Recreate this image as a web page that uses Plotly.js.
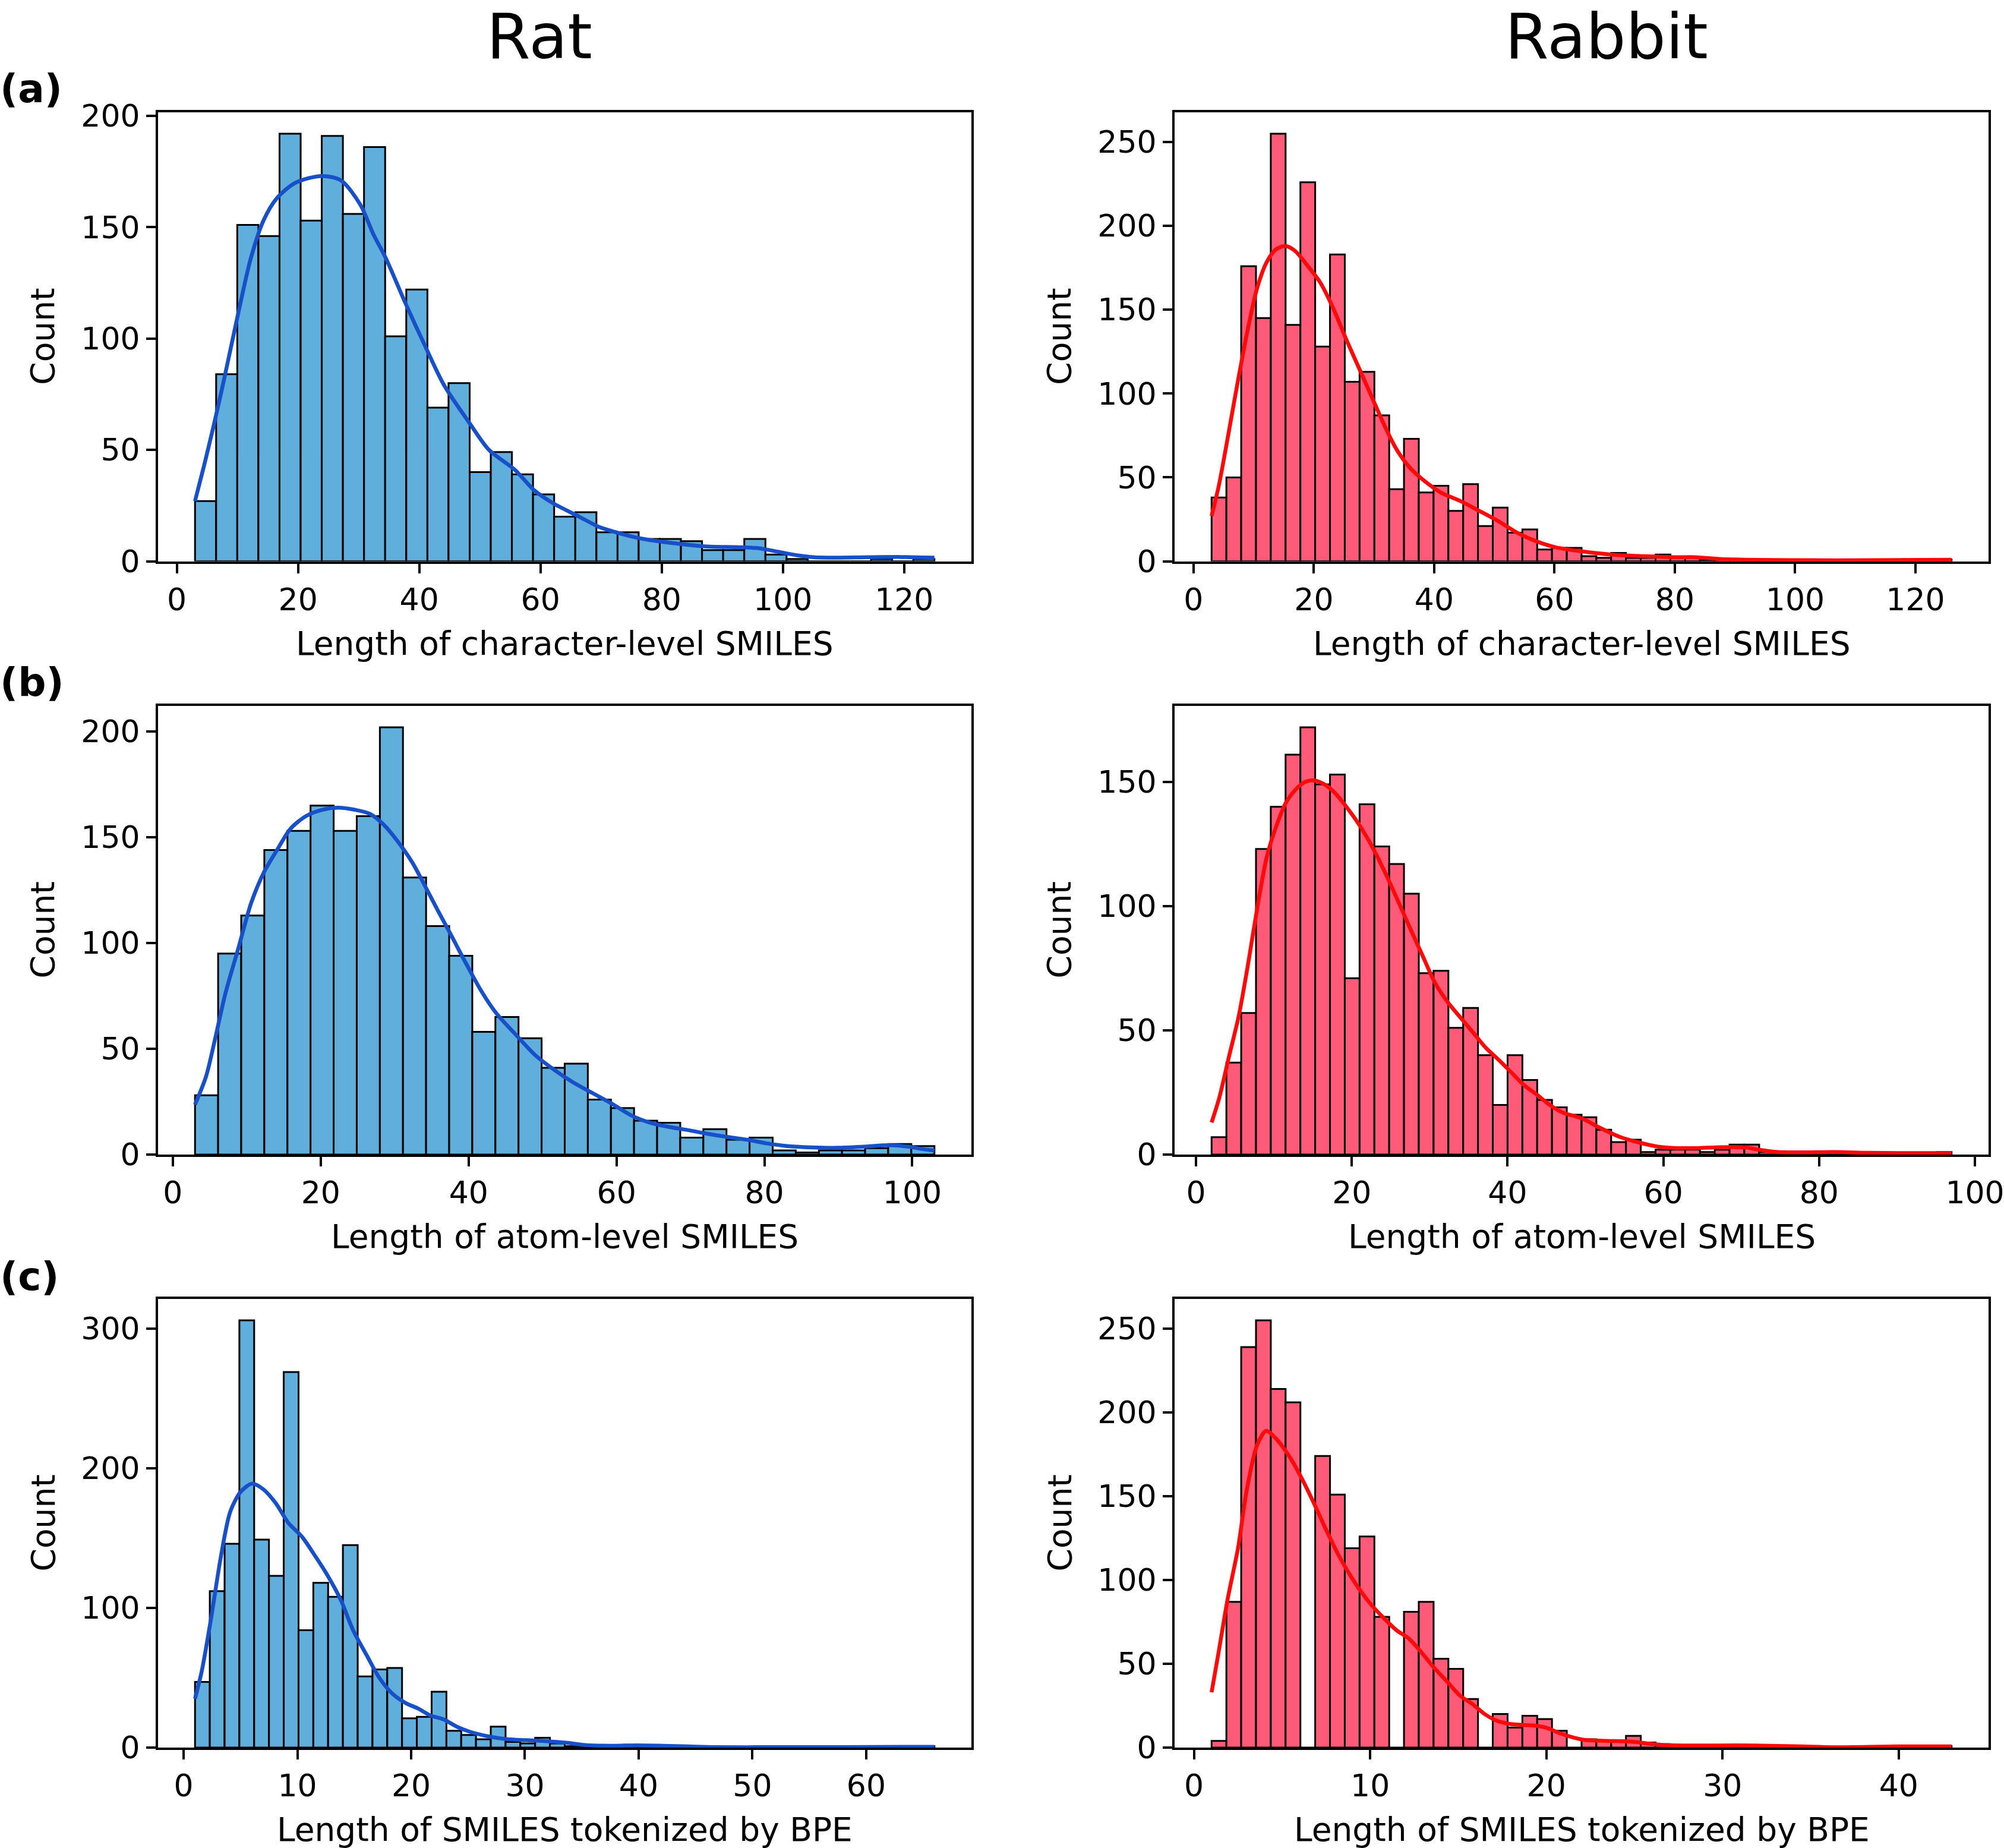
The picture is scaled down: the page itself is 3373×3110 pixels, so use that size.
<!DOCTYPE html>
<html>
<head>
<meta charset="utf-8">
<script src="https://cdn.plot.ly/plotly-3.0.1.min.js"></script>
<style>html,body{margin:0;padding:0;background:#fff;}</style>
</head>
<body>
<div id="fig" style="width:3373px;height:3110px;"></div>
<script>
// ---------- Histogram counts (equal-width bins spanning each range) ----------
const ratCharRange = [3, 125];
const ratCharCounts = [27, 84, 151, 146, 192, 153, 191, 156, 186, 101, 122, 69, 80, 40, 49, 39, 30, 20, 22, 13,
  13, 10, 10, 9, 5, 5, 10, 3, 1, 0, 0, 0, 1, 0, 1];

const rabbitCharRange = [3, 126];
const rabbitCharCounts = [38, 50, 176, 145, 255, 141, 226, 128, 183, 107, 113, 87, 43, 73, 41, 45, 30, 46, 21, 32,
  17, 19, 7, 8, 8, 3, 2, 5, 2, 2, 4, 2, 2, 1, 1, 0, 1, 0, 0, 0, 0, 0, 0, 0, 0, 0, 0, 0, 0, 1];

const ratAtomRange = [3, 103];
const ratAtomCounts = [28, 95, 113, 144, 153, 165, 153, 160, 202, 131, 108, 94, 58, 65, 55, 41, 43, 26, 22, 16,
  15, 8, 12, 7, 8, 2, 1, 2, 2, 3, 5, 4];

const rabbitAtomRange = [2, 97];
const rabbitAtomCounts = [7, 37, 57, 123, 140, 161, 172, 149, 153, 71, 141, 124, 117, 105, 73, 74, 51, 59, 40, 20,
  40, 30, 22, 19, 16, 15, 10, 5, 6, 1, 2, 2, 2, 1, 2, 4, 4, 1, 1, 0, 1, 0, 0, 1, 0, 0, 0, 0, 0, 1];

const ratBpeRange = [1, 66];
const ratBpeCounts = [47, 112, 146, 306, 149, 123, 269, 84, 118, 108, 145, 51, 56, 57, 21, 22, 40, 12, 9, 6,
  15, 4, 3, 7, 3, 1, 1, 0, 1, 2, 1, 1, 0, 1, 0, 0, 0, 0, 0, 0, 0, 0, 0, 0, 0, 0, 0, 0, 0, 1];

const rabbitBpeRange = [1, 43];
const rabbitBpeCounts = [4, 87, 239, 255, 214, 206, 0, 174, 151, 119, 126, 78, 0, 81, 87, 53, 47, 29, 0, 20,
  12, 19, 17, 10, 0, 5, 4, 4, 7, 3, 2, 0, 1, 1, 1, 0, 1, 0, 1, 0, 0, 0, 0, 0, 0, 0, 0, 0, 0, 1];

// ---------- Kernel density curves (count scale) ----------
const ratCharKdeX = [3, 4.5, 6, 7.5, 9, 10.5, 12.2, 14.3, 16.5, 19.6, 23.9, 27.1, 30.3, 32.4, 34.5, 37.7, 40.9, 44.1,
  48.3, 51.5, 55.8, 58.9, 62.1, 66.4, 69.6, 73.8, 77, 82.3, 87.6, 92.9, 96.1, 99.3, 102.5, 105.1, 108.8, 114, 119.5, 125];
const ratCharKdeY = [27, 43, 60, 78, 97, 116, 136, 153, 163, 170, 173, 171, 160, 147, 136, 116, 97, 79,
  62, 50, 41, 32, 26, 20, 15.5, 12, 10, 8, 6.6, 6.3, 5.8, 4.2, 2.6, 1.8, 1.6, 1.8, 1.9, 1.6];

const rabbitCharKdeX = [3, 4.2, 5.8, 7.4, 9, 10.5, 12.1, 13.7, 15.3, 16.9, 19, 21.1, 23.2, 25.3, 27.4, 29.5, 31.6,
  33.7, 35.9, 38, 41.1, 44.3, 47.5, 50.6, 53.8, 56.9, 60.1, 64.3, 69.6, 74.9, 80.1, 83.3, 87.5, 91.7, 101.2, 111.8, 126];
const rabbitCharKdeY = [27, 45, 76, 108, 138, 162, 178, 186, 188, 185, 176, 166, 151, 133, 116, 99, 82,
  67, 56, 49, 41, 36, 30, 24, 17, 12, 8.4, 6, 3.9, 3, 2.4, 2.4, 1.3, 0.9, 0.6, 0.6, 0.9];

const ratAtomKdeX = [3, 4.5, 5.8, 7.1, 8.9, 10.6, 12.4, 14.1, 15.9, 18, 20.2, 22.4, 24.6, 26.7, 28.5, 30.2, 32.4,
  34.1, 35.9, 37.6, 39.4, 41.6, 43.7, 46.3, 49, 51.6, 54.2, 56.8, 59.4, 62, 64.6, 67.2, 69.9, 72.5, 75.1, 77.7,
  80.3, 82.9, 86.4, 89.9, 93.4, 96.9, 99.5, 101.2, 103];
const ratAtomKdeY = [23.6, 37, 56, 76, 98, 119, 134, 144, 154, 160, 163, 164, 163, 161, 156, 149, 138,
  127, 115, 104, 92, 78, 67, 57, 47, 40, 34, 29, 24, 18.5, 15, 13, 11.4, 9.7, 8.3, 7,
  5.3, 4.1, 3.4, 3.2, 3.7, 4.4, 3.7, 2.7, 1.9];

const rabbitAtomKdeX = [2, 3, 4.2, 5.5, 6.7, 7.9, 9.1, 10.4, 11.6, 12.8, 14, 15.2, 16.5, 17.7, 19.3, 20.9, 22.6,
  24.2, 25.8, 27.5, 29.1, 30.7, 32.4, 34, 35.6, 37.2, 38.9, 40.5, 42.1, 43.8, 45.4, 47, 49.5, 51.9, 54.4, 56.8,
  59.3, 61.7, 64.1, 66.6, 69, 70.7, 72.3, 74.7, 78, 82.1, 86.1, 90.2, 97];
const rabbitAtomKdeY = [12.9, 23, 39, 56, 77, 100, 120, 133, 142, 147, 150, 150.6, 149, 146, 140, 133, 124,
  114, 103, 91, 80, 69, 61, 55, 49, 43, 38, 33, 28, 24, 20, 17, 14.6, 10.7, 7.1, 4.9,
  3.2, 2.6, 2.6, 2.9, 3, 2.8, 1.9, 1.0, 0.9, 1.0, 0.7, 0.6, 0.6];

const ratBpeKdeX = [1, 1.6, 2.4, 3.3, 4.1, 5, 6, 7, 8.1, 9.2, 10.4, 11.5, 12.6, 13.8, 14.9, 16.1, 17.2, 18.3,
  19.5, 20.6, 21.7, 22.9, 24, 25.1, 26.8, 28.5, 30.2, 31.9, 33.6, 35.3, 37.6, 39.9, 42.1, 44.4, 46.7, 51.8, 57.5, 63.1, 66];
const ratBpeKdeY = [35, 55, 92, 138, 169, 183, 189, 185, 175, 161, 151, 138, 124, 106, 84, 66, 50, 39,
  32, 28, 23, 20, 15, 11.5, 8, 6, 5.3, 4.6, 3.5, 1.8, 1.3, 1.6, 1.3, 0.8, 0.3, 0.3, 0.3, 0.5, 0.5];

const rabbitBpeKdeX = [1, 1.4, 1.9, 2.5, 3, 3.6, 4.1, 4.6, 5.4, 6.1, 6.8, 7.5, 8.2, 9.1, 10, 10.8, 11.5, 12.2,
  12.9, 13.6, 14.4, 15.1, 15.8, 16.5, 17.2, 18, 18.7, 19.4, 20.1, 20.8, 21.6, 22.3, 23.4, 24.4, 25.2, 25.9, 27,
  28.4, 30.9, 32.7, 34.5, 36.3, 39.9, 43];
const rabbitBpeKdeY = [33, 57, 88, 119, 154, 181, 189, 185, 174, 161, 146, 130, 115, 99, 86, 77, 70, 65,
  57, 48, 39, 31, 26, 20, 16, 14, 13.5, 13, 11.5, 8.4, 5.8, 4.4, 4, 3.8, 3.2, 2.2, 1.4,
  1.2, 1.3, 1.1, 0.7, 0.2, 0.7, 0.7];

// ---------- Labels ----------
const columnTitles = ['Rat', 'Rabbit'];
const rowTags = ['(a)', '(b)', '(c)'];
const xLabels = ['Length of character-level SMILES', 'Length of atom-level SMILES', 'Length of SMILES tokenized by BPE'];
const yLabel = 'Count';

// ---------- Styling ----------
const RAT_FILL = '#5FAEDC', RAT_LINE = '#1750C8';
const RABBIT_FILL = '#FF5A78', RABBIT_LINE = '#FF0A0A';
const FONT = 'DejaVu Sans';
const W = 3373, H = 3110;

// panel frames in pixels: [left, right] and [top, bottom]
const colPx = [[266, 1635], [1977, 3347]];
const rowPx = [[189, 944.5], [1188, 1943], [2186, 2941]];

const panels = [
  {row: 0, col: 0, counts: ratCharCounts, range: ratCharRange, kx: ratCharKdeX, ky: ratCharKdeY, fill: RAT_FILL, line: RAT_LINE, xd: 20, yd: 50},
  {row: 0, col: 1, counts: rabbitCharCounts, range: rabbitCharRange, kx: rabbitCharKdeX, ky: rabbitCharKdeY, fill: RABBIT_FILL, line: RABBIT_LINE, xd: 20, yd: 50},
  {row: 1, col: 0, counts: ratAtomCounts, range: ratAtomRange, kx: ratAtomKdeX, ky: ratAtomKdeY, fill: RAT_FILL, line: RAT_LINE, xd: 20, yd: 50},
  {row: 1, col: 1, counts: rabbitAtomCounts, range: rabbitAtomRange, kx: rabbitAtomKdeX, ky: rabbitAtomKdeY, fill: RABBIT_FILL, line: RABBIT_LINE, xd: 20, yd: 50},
  {row: 2, col: 0, counts: ratBpeCounts, range: ratBpeRange, kx: ratBpeKdeX, ky: ratBpeKdeY, fill: RAT_FILL, line: RAT_LINE, xd: 10, yd: 100},
  {row: 2, col: 1, counts: rabbitBpeCounts, range: rabbitBpeRange, kx: rabbitBpeKdeX, ky: rabbitBpeKdeY, fill: RABBIT_FILL, line: RABBIT_LINE, xd: 10, yd: 50}
];

const traces = [];
const layout = {
  width: W, height: H,
  margin: {l: 0, r: 0, t: 0, b: 0},
  paper_bgcolor: '#ffffff', plot_bgcolor: '#ffffff',
  showlegend: false,
  font: {family: FONT, size: 53, color: '#000000'},
  annotations: []
};

panels.forEach((p, i) => {
  const n = p.counts.length;
  const lo = p.range[0], hi = p.range[1];
  const bw = (hi - lo) / n;
  const centers = p.counts.map((_, k) => lo + (k + 0.5) * bw);
  const sfx = i === 0 ? '' : String(i + 1);
  const xa = 'x' + sfx, ya = 'y' + sfx;

  traces.push({
    type: 'bar', x: centers, y: p.counts, width: bw, xaxis: xa, yaxis: ya,
    marker: {color: p.fill, line: {color: '#000000', width: 3}},
    hoverinfo: 'skip'
  });
  traces.push({
    type: 'scatter', mode: 'lines', x: p.kx, y: p.ky, xaxis: xa, yaxis: ya,
    line: {color: p.line, width: 6.5, shape: 'spline', smoothing: 0.8},
    hoverinfo: 'skip'
  });

  // matplotlib-style autoscale: 5% x margins, 5% headroom above the tallest bar
  const pad = 0.05 * (hi - lo);
  const ymax = Math.max(...p.counts) * 1.05;
  const cx = colPx[p.col], ry = rowPx[p.row];
  const axisCommon = {
    showline: true, mirror: true, linecolor: '#000000', linewidth: 4,
    ticks: 'outside', ticklen: 16, tickwidth: 4, tickcolor: '#000000',
    showgrid: false, zeroline: false, ticklabeloverflow: 'allow',
    tickfont: {family: FONT, size: 52, color: '#000000'}
  };
  layout['xaxis' + sfx] = Object.assign({}, axisCommon, {
    domain: [cx[0] / W, cx[1] / W], anchor: ya,
    range: [lo - pad, hi + pad], tickmode: 'linear', tick0: 0, dtick: p.xd
  });
  layout['yaxis' + sfx] = Object.assign({}, axisCommon, {
    domain: [1 - ry[1] / H, 1 - ry[0] / H], anchor: xa,
    range: [0, ymax], tickmode: 'linear', tick0: 0, dtick: p.yd
  });

  // axis titles
  layout.annotations.push({
    text: xLabels[p.row], xref: 'paper', yref: 'paper',
    x: (cx[0] + cx[1]) / 2 / W, y: 1 - (ry[1] + 138) / H,
    xanchor: 'center', yanchor: 'middle', showarrow: false,
    font: {family: FONT, size: 55, color: '#000000'}
  });
  layout.annotations.push({
    text: yLabel, xref: 'paper', yref: 'paper', textangle: -90,
    x: (cx[0] - 194) / W, y: 1 - (ry[0] + ry[1]) / 2 / H,
    xanchor: 'center', yanchor: 'middle', showarrow: false,
    font: {family: FONT, size: 55, color: '#000000'}
  });
});

// column headings
const titleX = [908, 2704];
columnTitles.forEach((t, j) => {
  layout.annotations.push({
    text: t, xref: 'paper', yref: 'paper', x: titleX[j] / W, y: 1 - 62 / H,
    xanchor: 'center', yanchor: 'middle', showarrow: false,
    font: {family: FONT, size: 106, color: '#000000'}
  });
});

// row tags
const tagY = [150, 1148, 2148];
rowTags.forEach((t, r) => {
  layout.annotations.push({
    text: '<b>' + t + '</b>', xref: 'paper', yref: 'paper', x: -2 / W, y: 1 - tagY[r] / H,
    xanchor: 'left', yanchor: 'middle', showarrow: false,
    font: {family: FONT, size: 66, color: '#000000'}
  });
});

Plotly.newPlot('fig', traces, layout, {staticPlot: true, displayModeBar: false});
</script>
</body>
</html>
